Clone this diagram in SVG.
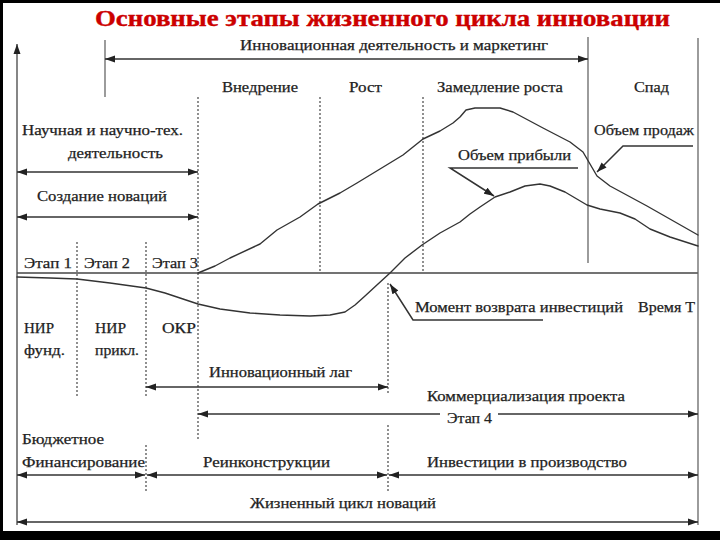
<svg xmlns="http://www.w3.org/2000/svg" width="720" height="540" viewBox="0 0 720 540">
<defs>
<marker id="arr" markerUnits="userSpaceOnUse" markerWidth="11" markerHeight="8" refX="10" refY="4" orient="auto-start-reverse">
<path d="M0,0.5 L10,4 L0,7.5 z" fill="#222"/>
</marker>
<style>
.t{font-family:"Liberation Serif","Times New Roman",serif;font-size:15px;fill:#222;stroke:#222;stroke-width:0.25;}
.title{font-family:"Liberation Serif","Times New Roman",serif;font-size:24px;font-weight:bold;fill:#cc0000;stroke:#cc0000;stroke-width:0.4;}
.ax{stroke:#666;stroke-width:1.3;fill:none;}
.dash{stroke:#555;stroke-width:1.3;stroke-dasharray:2 2;fill:none;}
.arw{stroke:#333;stroke-width:1.5;fill:none;marker-start:url(#arr);marker-end:url(#arr);}
.one{stroke:#333;stroke-width:1.5;fill:none;marker-end:url(#arr);}
.st{stroke:#333;stroke-width:1.5;fill:none;marker-start:url(#arr);}
.curve{stroke:#333;stroke-width:1.4;fill:none;stroke-linejoin:round;stroke-linecap:round;}
</style>
</defs>
<rect x="0" y="0" width="720" height="540" fill="#000"/>
<rect x="3" y="3" width="717" height="528" fill="#fff"/>

<g id="title">
<text class="title" x="95" y="26" textLength="575" lengthAdjust="spacingAndGlyphs">Основные этапы жизненного цикла инновации</text>
</g>

<g id="axes">
<line class="ax" x1="17" y1="525" x2="17" y2="44" marker-end="url(#arr)" style="stroke:#444"/>
<line class="ax" x1="17" y1="273" x2="698" y2="273" style="stroke:#444;stroke-width:1.6"/>
<line class="ax" x1="105" y1="40" x2="105" y2="97"/>
<line class="ax" x1="588" y1="37" x2="588" y2="263"/>
<line class="ax" x1="698" y1="38" x2="698" y2="525"/>
</g>

<g id="dividers">
<line class="dash" x1="198" y1="97" x2="198" y2="440"/>
<line class="dash" x1="320" y1="97" x2="320" y2="272"/>
<line class="dash" x1="423" y1="97" x2="423" y2="272"/>
<line class="dash" x1="77" y1="242" x2="77" y2="398"/>
<line class="dash" x1="146" y1="242" x2="146" y2="398"/>
<line class="dash" x1="146" y1="445" x2="146" y2="492"/>
<line class="dash" x1="388" y1="283" x2="388" y2="395"/>
<line class="dash" x1="388" y1="425" x2="388" y2="493"/>
</g>

<g id="curves">
<polyline id="sales" class="curve" points="198,273 215,266 230,258 260,244 277,230 300,217 318,204 340,193 357,183 380,169 403,155 423,139 440,131 453,123 460,117 466,110 475,108 500,108 513,112 543,128 570,142 583,152 590,164 597,176 610,186 647,206 698,235"/>
<polyline id="profit" class="curve" points="17,277 50,278 77,279 110,283 146,288 165,293 180,298 198,304 220,309 250,313 280,315 310,316 330,315 345,312 355,305 365,296 378,284 390,273 405,258 422,245 440,233 460,222 470,214 480,207 495,197 510,192 525,186 540,184 550,186 565,192 587,205 600,209 620,213 635,219 650,229 670,237 698,246"/>
</g>

<g id="connectors">
<line class="arw" x1="105" y1="59" x2="588" y2="59"/>
<line class="arw" x1="17" y1="172" x2="198" y2="172"/>
<line class="arw" x1="17" y1="217" x2="198" y2="217"/>
<line class="arw" x1="146" y1="387" x2="388" y2="387"/>
<line class="st" x1="198" y1="414" x2="440" y2="414"/>
<line class="one" x1="498" y1="414" x2="698" y2="414"/>
<line class="arw" x1="17" y1="475" x2="145" y2="475"/>
<line class="arw" x1="147" y1="475" x2="387" y2="475"/>
<line class="arw" x1="389" y1="475" x2="698" y2="475"/>
<line class="arw" x1="17" y1="522" x2="698" y2="522"/>
<polyline class="one" points="693,146 623,146 597,172"/>
<polyline class="one" points="578,168 450,168 494,196"/>
<polyline class="one" points="543,320 413,320 390,284"/>
</g>

<g id="labels">
<text class="t" x="240" y="50" textLength="308" lengthAdjust="spacingAndGlyphs">Инновационная деятельность и маркетинг</text>
<text class="t" x="222" y="92" textLength="76" lengthAdjust="spacingAndGlyphs">Внедрение</text>
<text class="t" x="349" y="92" textLength="33" lengthAdjust="spacingAndGlyphs">Рост</text>
<text class="t" x="437" y="92" textLength="126" lengthAdjust="spacingAndGlyphs">Замедление роста</text>
<text class="t" x="634" y="92" textLength="35" lengthAdjust="spacingAndGlyphs">Спад</text>
<text class="t" x="22" y="135" textLength="161" lengthAdjust="spacingAndGlyphs">Научная и научно-тех.</text>
<text class="t" x="68" y="158" textLength="95" lengthAdjust="spacingAndGlyphs">деятельность</text>
<text class="t" x="37" y="201" textLength="130" lengthAdjust="spacingAndGlyphs">Создание новаций</text>
<text class="t" x="24" y="268" textLength="48" lengthAdjust="spacingAndGlyphs">Этап 1</text>
<text class="t" x="84" y="268" textLength="46" lengthAdjust="spacingAndGlyphs">Этап 2</text>
<text class="t" x="152" y="268" textLength="46" lengthAdjust="spacingAndGlyphs">Этап 3</text>
<text class="t" x="594" y="135" textLength="100" lengthAdjust="spacingAndGlyphs">Объем продаж</text>
<text class="t" x="458" y="160" textLength="113" lengthAdjust="spacingAndGlyphs">Объем прибыли</text>
<text class="t" x="415" y="312" textLength="208" lengthAdjust="spacingAndGlyphs">Момент возврата инвестиций</text>
<text class="t" x="638" y="312" textLength="57" lengthAdjust="spacingAndGlyphs">Время Т</text>
<text class="t" x="24" y="333" textLength="30" lengthAdjust="spacingAndGlyphs">НИР</text>
<text class="t" x="24" y="355" textLength="41" lengthAdjust="spacingAndGlyphs">фунд.</text>
<text class="t" x="95" y="333" textLength="31" lengthAdjust="spacingAndGlyphs">НИР</text>
<text class="t" x="95" y="355" textLength="44" lengthAdjust="spacingAndGlyphs">прикл.</text>
<text class="t" x="162" y="333" textLength="34" lengthAdjust="spacingAndGlyphs">ОКР</text>
<text class="t" x="209" y="377" textLength="143" lengthAdjust="spacingAndGlyphs">Инновационный лаг</text>
<text class="t" x="427" y="401" textLength="198" lengthAdjust="spacingAndGlyphs">Коммерциализация проекта</text>
<text class="t" x="447" y="423" textLength="45" lengthAdjust="spacingAndGlyphs">Этап 4</text>
<text class="t" x="22" y="444" textLength="82" lengthAdjust="spacingAndGlyphs">Бюджетное</text>
<text class="t" x="22" y="467" textLength="123" lengthAdjust="spacingAndGlyphs">Финансирование</text>
<text class="t" x="203" y="467" textLength="127" lengthAdjust="spacingAndGlyphs">Реинконструкции</text>
<text class="t" x="427" y="467" textLength="200" lengthAdjust="spacingAndGlyphs">Инвестиции в производство</text>
<text class="t" x="250" y="508" textLength="186" lengthAdjust="spacingAndGlyphs">Жизненный цикл новаций</text>
</g>
</svg>
